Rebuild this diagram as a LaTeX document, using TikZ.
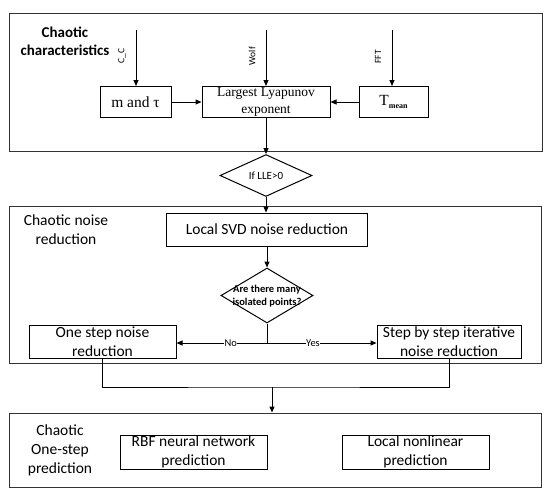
\documentclass[tikz,border=0pt]{standalone}
\usepackage{fontspec}
\setmainfont{Carlito}
\newfontfamily\seriffont{Liberation Serif}
\usetikzlibrary{arrows.meta,shapes.geometric}
\tikzset{
  box/.style={draw=black,line width=1pt,inner sep=0pt,align=center,font=\fontsize{15.5}{19}\selectfont},
  sbox/.style={box,font=\seriffont\fontsize{13.5}{17}\selectfont},
  frame/.style={draw=black!80,line width=1pt,inner sep=0pt},
  dia/.style={draw=black,line width=1pt,diamond,inner sep=0pt,align=center},
  sect/.style={align=center,font=\fontsize{15.5}{19}\selectfont},
  arr/.style={line width=1pt,-{Triangle[length=6pt,width=5pt]}},
  ln/.style={line width=1pt},
  rlab/.style={rotate=90,font=\fontsize{9.5}{10}\selectfont,inner sep=0pt},
  ylab/.style={fill=white,inner sep=0.5pt,font=\fontsize{10.5}{10}\selectfont}
}
\begin{document}
\begin{tikzpicture}[x=1pt,y=-1pt]
\useasboundingbox[fill=white] (0,0) rectangle (550,496);
% frames
\node[frame,minimum width=533pt,minimum height=138pt] (topf) at (276,82) {};
\node[frame,minimum width=532pt,minimum height=157pt] (midf) at (275.5,284.5) {};
\node[frame,minimum width=532pt,minimum height=74pt] (botf) at (275.5,450) {};
% section labels
\node[sect,font=\fontsize{15}{18}\selectfont\bfseries] (s1) at (65,41) {Chaotic\\characteristics};
\node[sect] (s2) at (66,230) {Chaotic noise\\reduction};
\node[sect] (s3) at (60,450) {Chaotic\\One-step\\prediction};
% top boxes
\node[box,font=\seriffont\fontsize{15.5}{19}\selectfont,minimum width=71pt,minimum height=31pt] (mt) at (135.5,102) {m and τ};
\node[sbox,minimum width=128pt,minimum height=31pt] (lle) at (266,102) {Largest Lyapunov\\exponent};
\node[box,minimum width=69pt,minimum height=31pt] (tm) at (393.5,102) {\seriffont\fontsize{15.5}{19}\selectfont T\raisebox{-2.5pt}{\fontsize{8}{8}\selectfont\bfseries mean}};
\coordinate (cc) at (136,30);
\coordinate (cw) at (266,30);
\coordinate (cf) at (392,30);
\draw[arr] (cc) -- (cc |- mt.north);
\draw[arr] (cw) -- (cw |- lle.north);
\draw[arr] (cf) -- (cf |- tm.north);
\node[rlab] (lc) at (122,56) {C\_C};
\node[rlab] (lw) at (252,56) {Wolf};
\node[rlab] (lf) at (378,57) {FFT};
\draw[arr] (mt.east) -- (lle.west);
\draw[arr] (tm.west) -- (lle.east);
% diamond 1
\node[dia,minimum width=92pt,minimum height=35pt,font=\fontsize{11}{12}\selectfont] (d1) at (266,175.5) {If LLE>0};
\draw[arr] (lle.south) -- (d1.north);
% middle
\node[box,minimum width=201pt,minimum height=33pt] (svd) at (267,229.5) {Local SVD noise reduction};
\draw[arr] (d1.south) -- (d1.south |- svd.north);
\node[dia,minimum width=92pt,minimum height=55pt] (d2) at (267,295.5) {};
\node[font=\fontsize{10.5}{13.5}\selectfont\bfseries,align=center,inner sep=0pt] (d2t) at (267,296) {Are there many\\isolated points?};
\draw[arr] (svd.south) -- (d2.north);
\node[box,minimum width=147pt,minimum height=33pt] (one) at (102.5,341.5) {One step noise\\reduction};
\node[box,minimum width=144pt,minimum height=33pt] (step) at (449,341.5) {Step by step iterative\\noise reduction};
\coordinate (br) at (267,343);
\draw[ln] (d2.south) -- (br);
\draw[arr] (br) -- node[ylab,pos=0.4] (no) {No} (br -| one.east);
\draw[arr] (br) -- node[ylab,pos=0.42] (yes) {Yes} (br -| step.west);
% bottom
\coordinate (j) at (272,387);
\draw[ln] (one.south) |- (j) -| (step.south);
\draw[arr] (j) -- (j |- botf.north);
\node[box,minimum width=147pt,minimum height=34pt] (rbf) at (193.5,452) {RBF neural network\\prediction};
\node[box,minimum width=147pt,minimum height=34pt] (lnp) at (415.5,452) {Local nonlinear\\prediction};
\end{tikzpicture}
\end{document}
